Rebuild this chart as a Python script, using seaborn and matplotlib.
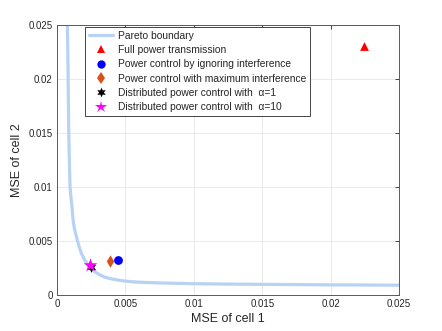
import numpy as np
import pandas as pd
import seaborn as sns
import matplotlib
matplotlib.use("Agg")
import matplotlib.pyplot as plt
from matplotlib.lines import Line2D

# ---- data ----
pareto_x = [0.00076, 0.00080, 0.00083, 0.00086, 0.00090, 0.00095, 0.00102, 0.00110,
            0.00117, 0.00128, 0.00142, 0.00158, 0.00178, 0.00200, 0.00227, 0.00250,
            0.00276, 0.00310, 0.00349, 0.00400, 0.00471, 0.00540, 0.00617, 0.00730,
            0.00860, 0.01000, 0.01200, 0.01400, 0.01600, 0.01800, 0.02000, 0.02250,
            0.02500]
pareto_y = [0.02500, 0.02150, 0.01800, 0.01500, 0.01250, 0.01000, 0.00900, 0.00810,
            0.00694, 0.00610, 0.00540, 0.00460, 0.00386, 0.00328, 0.00278, 0.00245,
            0.00216, 0.00188, 0.00164, 0.00148, 0.00132, 0.00123, 0.00117, 0.00112,
            0.00108, 0.00104, 0.00101, 0.00099, 0.00097, 0.00095, 0.00093, 0.00092,
            0.00090]

methods = ["Full power transmission",
           "Power control by ignoring interference",
           "Power control with maximum interference",
           "Distributed power control with  \u03b1=1",
           "Distributed power control with  \u03b1=10"]
mse1 = [0.0224, 0.00446, 0.00385, 0.00246, 0.00241]
mse2 = [0.0231, 0.00324, 0.00312, 0.00256, 0.00278]

colors = ["#ff0000", "#0000ff", "#d95319", "#000000", "#ff00ff"]
markers = ["^", "o", "d", (6, 1, 0), "*"]
sizes = [40, 40, 40, 60, 110]
leg_ms = [6, 6, 6, 7, 9]

sns.set_style("whitegrid")
plt.rcParams["font.family"] = ["Liberation Sans", "DejaVu Sans"]

fig = plt.figure(figsize=(4.42, 3.31), dpi=100)
ax = fig.add_axes([0.129, 0.109, 0.774, 0.815])

curve = pd.DataFrame({"x": pareto_x, "y": pareto_y})
sns.lineplot(data=curve, x="x", y="y", sort=False, estimator=None,
             color="#b7d2f3", linewidth=2.3, ax=ax)

for i in range(len(methods)):
    sns.scatterplot(x=[mse1[i]], y=[mse2[i]], marker=markers[i], color=colors[i],
                    s=sizes[i], linewidth=0, ax=ax, zorder=3)

ax.set_xlim(0, 0.025)
ax.set_ylim(0, 0.025)
ticks = [0, 0.005, 0.01, 0.015, 0.02, 0.025]
ax.set_xticks(ticks)
ax.set_yticks(ticks)
ax.set_xticklabels(["0", "0.005", "0.01", "0.015", "0.02", "0.025"])
ax.set_yticklabels(["0", "0.005", "0.01", "0.015", "0.02", "0.025"])
ax.set_xlabel("MSE of cell 1", fontsize=9, color="#262626", labelpad=3)
ax.set_ylabel("MSE of cell 2", fontsize=9, color="#262626", labelpad=4)

ax.grid(True, color="#e6e6e6", linewidth=0.6)
ax.tick_params(direction="in", length=3, width=0.6, colors="#262626",
               labelsize=7, top=True, right=True, pad=3)
for sp in ax.spines.values():
    sp.set_color("#595959")
    sp.set_linewidth(0.7)

# legend handles built to match the reference's compact, evenly spaced rows
handles = [Line2D([], [], color="#b7d2f3", linewidth=2.3)]
for i in range(len(methods)):
    handles.append(Line2D([], [], linestyle="none", marker=markers[i],
                          color=colors[i], markersize=leg_ms[i], markeredgewidth=0))
labels = ["Pareto boundary"] + methods

leg = ax.legend(handles, labels, loc="upper left", bbox_to_anchor=(0.083, 0.993),
                fontsize=7.4, frameon=True, fancybox=False, framealpha=1,
                borderpad=0.35, labelspacing=0.42, handlelength=2.3,
                handletextpad=0.5, borderaxespad=0)
leg.get_frame().set_edgecolor("#262626")
leg.get_frame().set_linewidth(0.6)

fig.savefig("out.png", dpi=100)
